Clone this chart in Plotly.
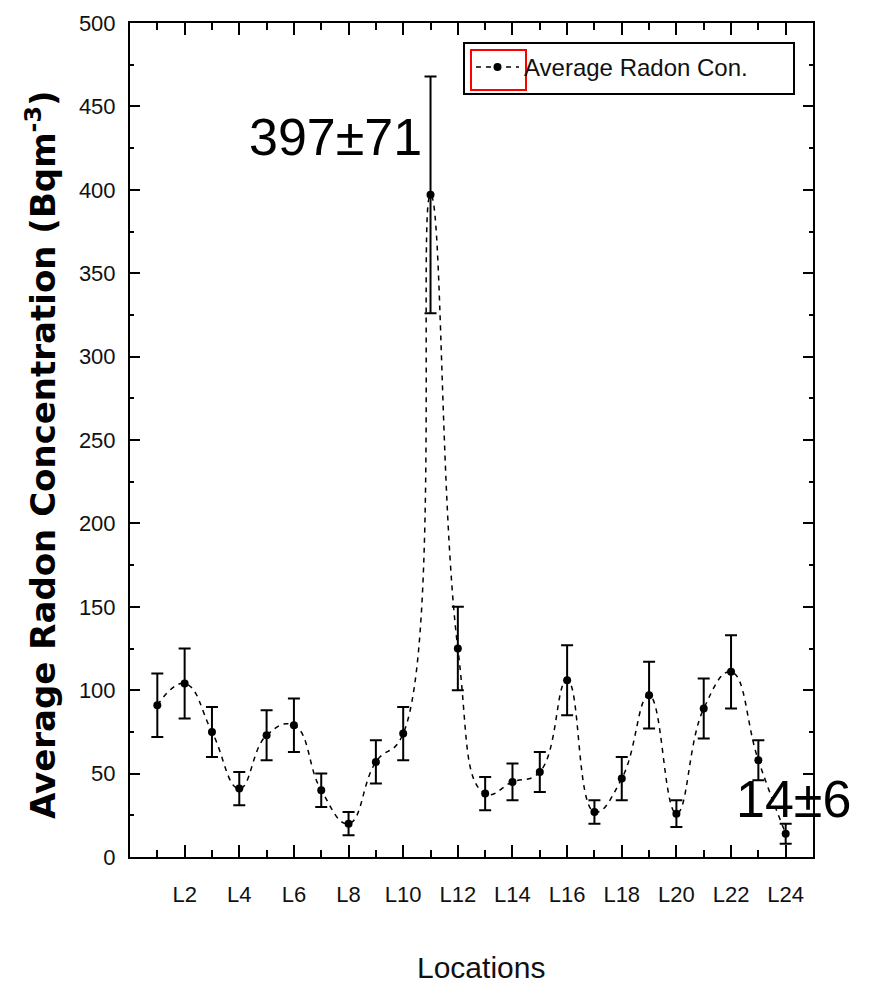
import plotly.graph_objects as go

# ---- data ----
locations = [f"L{i}" for i in range(1, 25)]
avg_radon = [91, 104, 75, 41, 73, 79, 40, 20, 57, 74, 397, 125,
             38, 45, 51, 106, 27, 47, 97, 26, 89, 111, 58, 14]
err_radon = [19, 21, 15, 10, 15, 16, 10, 7, 13, 16, 71, 25,
             10, 11, 12, 21, 7, 13, 20, 8, 18, 22, 12, 6]
x_pos = list(range(1, len(locations) + 1))
major_vals = x_pos[1::2]
major_text = locations[1::2]
minor_vals = x_pos[0::2]

ARIAL = "Liberation Sans, Arial, sans-serif"
TXT = "#111"

# plot area in page pixels: x 130..813, y 23..857 (page body has 8px margin)
PL, PR, PT, PB = 130, 813, 23, 857
OFF = 8
FW, FH = 871 - OFF, 988 - OFF
def px(xp):
    return (xp - PL) / (PR - PL)
def py(yp):
    return (PB - yp) / (PB - PT)

fig = go.Figure()
fig.add_trace(go.Scatter(
    x=x_pos, y=avg_radon,
    mode="lines+markers",
    name="Average Radon Con.",
    line=dict(color="black", width=1.5, dash="5px,5px", shape="spline", smoothing=1.3),
    marker=dict(color="black", size=8, symbol="circle"),
    error_y=dict(type="data", array=err_radon, visible=True,
                 color="black", thickness=2, width=6),
    cliponaxis=False,
))

imax = avg_radon.index(max(avg_radon))
imin = avg_radon.index(min(avg_radon))
fig.add_annotation(x=x_pos[imax], y=avg_radon[imax], xref="x", yref="y",
                   text=f"{avg_radon[imax]}±{err_radon[imax]}", showarrow=False,
                   xanchor="right", yanchor="middle", xshift=-7, yshift=58,
                   font=dict(family=ARIAL, size=52, color="black"))
fig.add_annotation(x=x_pos[imin], y=avg_radon[imin], xref="x", yref="y",
                   text=f"{avg_radon[imin]}±{err_radon[imin]}", showarrow=False,
                   xanchor="center", yanchor="middle", xshift=8, yshift=35,
                   font=dict(family=ARIAL, size=52, color="black"))

# axis titles as annotations
fig.add_annotation(xref="paper", yref="paper", x=px(41), y=py(455),
                   text="Average Radon Concentration (Bqm<sup>-3</sup>)",
                   textangle=-90, showarrow=False, xanchor="center", yanchor="middle",
                   font=dict(family="DejaVu Sans", size=34, color="black", weight="bold"))
fig.add_annotation(xref="paper", yref="paper", x=px(481), y=py(967),
                   text="Locations", showarrow=False, xanchor="center", yanchor="middle",
                   font=dict(family=ARIAL, size=30, color=TXT))

# legend frame and red symbol box
fig.add_shape(type="rect", xref="paper", yref="paper",
              x0=px(464), x1=px(794), y0=py(94), y1=py(43),
              line=dict(color="black", width=2), fillcolor="rgba(0,0,0,0)")
fig.add_shape(type="rect", xref="paper", yref="paper",
              x0=px(471), x1=px(526), y0=py(90), y1=py(50),
              line=dict(color="red", width=2), fillcolor="rgba(0,0,0,0)")

fig.update_layout(
    width=FW, height=FH,
    margin=dict(l=PL - OFF, r=FW + OFF - PR, t=PT - OFF, b=FH + OFF - PB, autoexpand=False),
    paper_bgcolor="white", plot_bgcolor="white",
    showlegend=True,
    legend=dict(x=px(471), y=py(45), xanchor="left", yanchor="top",
                bgcolor="rgba(0,0,0,0)", borderwidth=0, itemwidth=43,
                font=dict(family=ARIAL, size=24, color=TXT)),
    xaxis=dict(range=[0, 25], tickmode="array", tickvals=major_vals, ticktext=major_text,
               ticks="inside", ticklen=12, tickwidth=2, tickcolor="black",
               showline=True, linewidth=2, linecolor="black", mirror="ticks",
               showgrid=False, zeroline=False, ticklabelstandoff=17, automargin=False,
               tickfont=dict(family=ARIAL, size=22, color=TXT),
               minor=dict(tickvals=minor_vals, ticks="inside", ticklen=7,
                          tickwidth=2, tickcolor="black", showgrid=False)),
    yaxis=dict(range=[0, 500], tickmode="linear", tick0=0, dtick=50,
               ticks="inside", ticklen=10, tickwidth=2, tickcolor="black",
               showline=True, linewidth=2, linecolor="black", mirror="ticks",
               showgrid=False, zeroline=False, ticklabelstandoff=8, automargin=False,
               tickfont=dict(family=ARIAL, size=22, color=TXT),
               minor=dict(dtick=25, ticks="inside", ticklen=4,
                          tickwidth=2, tickcolor="black", showgrid=False)),
)

fig.write_html("out.html")
